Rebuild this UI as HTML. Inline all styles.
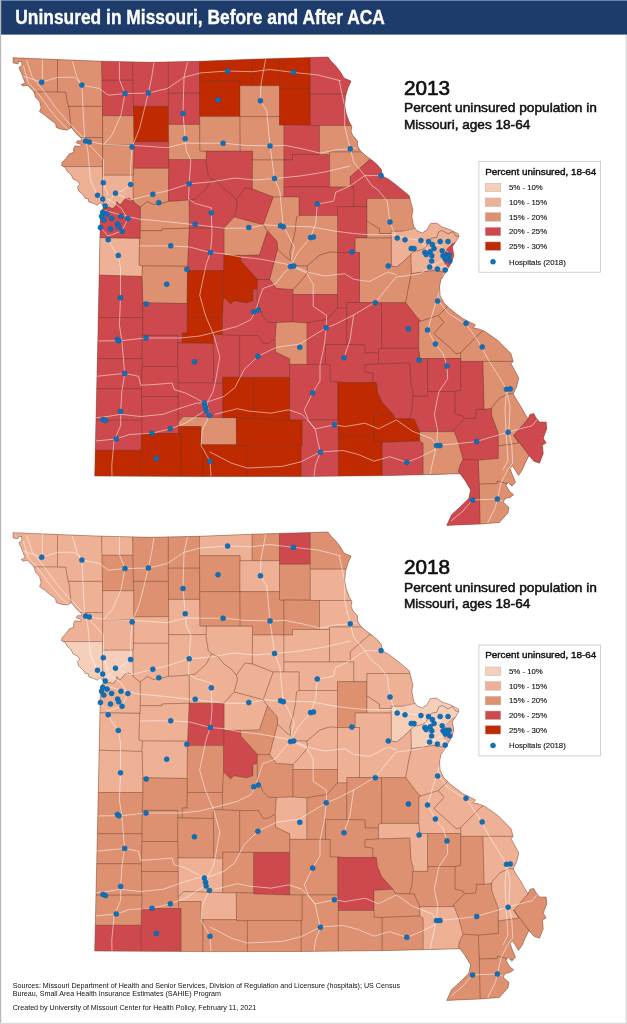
<!DOCTYPE html>
<html lang="en"><head><meta charset="utf-8"><title>Uninsured in Missouri, Before and After ACA</title>
<style>
html,body{margin:0;padding:0;background:#fff}
body{width:627px;height:1024px;overflow:hidden;position:relative;font-family:"Liberation Sans",sans-serif}
svg{position:absolute;left:0;top:0;display:block;will-change:transform}
.co{stroke:#5a3a2c;stroke-opacity:.55;stroke-width:.55;stroke-linejoin:round}
.rd{fill:none;stroke:#fff;stroke-opacity:.75;stroke-width:.7;stroke-linejoin:round;stroke-linecap:round}
.ol{fill:none;stroke:#7a4a38;stroke-opacity:.7;stroke-width:.7;stroke-linejoin:round}
.h{fill:#1171ba;stroke:#0c5c9d;stroke-width:.5}
.t1{font:bold 20.3px "Liberation Sans",sans-serif;fill:#fff;stroke:#fff;stroke-width:.35}
.yr{font:19.6px "Liberation Sans",sans-serif;fill:#111;stroke:#111;stroke-width:.7}
.sub{font:13.2px "Liberation Sans",sans-serif;fill:#111;stroke:#111;stroke-width:.5}
.lt{font:9.3px "Liberation Sans",sans-serif;fill:#111;stroke:#111;stroke-width:.4}
.ll{font:7.8px "Liberation Sans",sans-serif;fill:#111;stroke:#111;stroke-width:.12}
.ft{font:7.15px "Liberation Sans",sans-serif;fill:#111}
</style></head><body>
<svg width="627" height="1024" viewBox="0 0 627 1024">
<rect x="0" y="0" width="627" height="1024" fill="#fff"/>
<rect x="0" y="0" width="627" height="34.6" fill="#1d3c6b"/>
<rect x="0" y="0" width="627" height="1" fill="#6f86ab"/>
<rect x="0" y="0" width="1.2" height="1024" fill="#b9b9b9"/>
<rect x="625.6" y="35" width="1.4" height="989" fill="#dadada"/>
<rect x="0" y="1022.8" width="627" height="1.2" fill="#dcdcdc"/>
<text class="t1" x="15.3" y="24" textLength="369.5" lengthAdjust="spacingAndGlyphs">Uninsured in Missouri, Before and After ACA</text>
<defs>
<filter id="soft" x="-2%" y="-2%" width="104%" height="104%"><feGaussianBlur stdDeviation=".35"/></filter>
<clipPath id="mo"><path d="M13 57.7 L57.5 59.5 L101.5 61.2 L150 62.3 L200 61.3 L252 59.2 L285 58.2 L328 57 L331.2 61.2 L335.9 65.9 L340.7 72.3 L343.9 77.9 L351.1 81.1 L347.9 88.3 L345.5 96.3 L344.7 105.8 L346.3 113.8 L349.5 122.6 L351.9 126.6 L351.1 131.3 L352.7 135.3 L357.5 140.9 L357.5 145.7 L360.7 151.3 L366.3 156 L371.8 160 L377.4 164.8 L381.4 169.6 L382.2 176 L388.6 179.2 L395 184 L402.9 190.4 L408.5 195.1 L409.4 196 L410.8 202.2 L412.9 209.4 L411.9 216.5 L413.7 226.6 L417.2 230.9 L422.3 233 L427.3 229.4 L430.2 223.7 L436.6 223 L442.4 227.3 L449.5 229.4 L458.2 233.8 L458.9 236.6 L455.3 242.4 L452.4 246.7 L453.8 255.3 L451.7 262.5 L448.1 268.2 L445.2 273.2 L440.9 279.7 L439.5 286.9 L440.2 295.5 L443.8 302.6 L449.5 308.4 L456.7 314.1 L462.5 318.4 L471.1 322.7 L475.4 324.9 L473.2 327.8 L479.7 329.2 L485 331.4 L497.6 340.2 L511 353.6 L513.2 361.4 L511 363.6 L518.8 378 L516.6 387 L513.2 393.8 L516.6 400 L520.4 405.7 L524.2 412.4 L528 419 L530 414.4 L533.8 413.4 L535.7 417.2 L539.5 422 L546.2 422 L546.8 428.7 L543.3 438.3 L546.2 443 L542.4 445 L543.3 453.6 L539.5 463.2 L533.8 461.2 L529 455.5 L525.2 463.2 L522.3 469.9 L518.5 475.6 L515.6 470.8 L512.7 466 L509.9 468 L512.7 475.6 L515.6 482.3 L511.8 486 L508 482.3 L506 485.2 L509.9 491.9 L513.7 494.7 L509.9 497.6 L505 498.6 L503.2 502.4 L508.9 507.2 L508 512.9 L499.3 522.5 L480.2 524 L446.7 525.4 L451.5 514.8 L459 508 L468.7 498.6 L470.6 490 L464.9 480.4 L460 473.7 L390 475.5 L300 476.5 L200 476.6 L94.7 476 L98 330 L100.4 215 L102.3 210.3 L103.6 206.5 L100.4 202.6 L97.2 205.2 L93.4 203.3 L88.9 202 L88.3 198.8 L85.1 198.2 L83.2 195 L78.7 191.1 L77.4 186.7 L80 184.1 L77.4 180.9 L73 179 L71.1 174.6 L67.2 171.4 L65.3 167.5 L61.5 165.6 L62.1 162.4 L65.9 158.6 L69.1 154.1 L73.6 152.2 L73.6 148.4 L74.9 145.8 L80.6 146.5 L81.3 144.6 L76.2 142.7 L77.4 140.7 L81.9 140.7 L80.6 137.6 L77.4 135 L74.6 131.6 L71.4 127.6 L67.4 130 L61 129.2 L56.3 127.6 L55.5 123.6 L49.1 118.8 L44.3 114.8 L39.5 111.6 L41.1 107.6 L39.5 101.3 L35.5 97.3 L33.9 91.7 L27.5 85.3 L22.8 86.1 L21.2 84.5 L25.2 82.9 L23.6 78.9 L21.2 72.5 L18.8 67.8 L22 65.4 L21.5 61.4 L18.8 61.4 L18 63.8 L13.2 63Z"/></clipPath>

<g id="roads">
<path class="rd" d="M104 210.3 L119.7 214.7 L139.7 219.2 L164.3 221.4 L195.6 224.8 L224 228.2 L248.6 228.2 L264.2 224.8 L281 226 L311 226.8 L336 231.3 L353.7 233.5 L369 234.7 L391.6 234.7 L405 238 L420 240.5 L440 246 L448 252"/>
<path class="rd" d="M447 258 L432 266 L420 273.7 L405 276 L396 277 L387 288 L376 301.6 L353.7 315 L335.8 324 L326.2 327.8 L308.8 338.4 L299.8 344 L276.4 347.3 L257.9 356.3 L244 369.7 L235 387.5 L224 396.4 L204.4 403.1 L196.6 403.1 L178.8 408.7 L163.1 414.3 L140.8 416.5 L120.7 414.3 L107.3 416.5 L96 417.7"/>
<path class="rd" d="M446 265 L441 285 L439.6 302.2 L448.5 313.4 L466.4 324.6 L477.5 340.2 L488.7 360.3 L499.8 378 L506.5 389.3 L510 407 L508.8 431.7 L511.8 445 L512.7 463 L507 470.8 L501.2 482.3 L497.4 499 L495.5 507 L487.8 522.5"/>
<path class="rd" d="M506.5 389.3 L505 410 L506 432 L508 460 L503 470"/>
<path class="rd" d="M215 414.3 L237.3 408.7 L248.5 411 L270.8 413.2 L288.7 409.8 L302 414.3 L315.5 428.8 L334.4 424.8 L345 426.6 L365 423.2 L378.5 428.8 L396.4 419.9 L412 431 L432 438.9 L436.5 445.6 L461 443.3 L476.7 441.5 L485 438.9 L508 432.2 L520.4 428.7 L531.9 425.8 L537.6 419 L543 416"/>
<path class="rd" d="M204.4 411 L185.5 423.2 L170.3 428.8 L152 433.3 L129.7 434.4 L116.3 438.9 L96 441"/>
<path class="rd" d="M265.6 59.5 L261 84 L260.4 100.8 L266.7 110.8 L270 145.9 L272.3 162.2 L274.5 178.5 L279.8 191.3 L282 213.7 L283.2 226 L288.8 236 L294.3 247.2 L291 260.6 L291 266.2 L306.5 272.9 L313.2 284 L313.2 306.4 L326.6 315.3 L326.2 328.3 L324.4 345 L320 365.2 L320 380.8 L312.6 393.1 L304.3 409.8 L308.8 421 L315.5 430 L317.7 441 L320.4 452.3 L315.5 465 L314 476"/>
<path class="rd" d="M80 140 L85.9 141 L103.8 144.3 L132.1 145.4 L150 146.5 L167.3 147.7 L185.2 143.2 L223.1 143.2 L245.5 145.4 L270 145.9 L285 145.4 L302.3 148.8 L320.2 153.2 L335.8 149.9 L350.3 148.8 L356 148"/>
<path class="rd" d="M105 207 L115 193.4 L121.6 191.2 L130.6 184.5 L130.6 166.6 L132.1 147 L139.5 128.7 L144 110.8 L148.4 93 L151.7 77.3 L153.9 62.8"/>
<path class="rd" d="M26.7 60.6 L32.3 77.3 L43.5 90.7 L54.7 106.4 L65.8 119.7 L77 131 L86 141 L88.1 153.2 L89.3 166.6 L90.4 180 L97 195 L103 203"/>
<path class="rd" d="M23.4 66 L28 82 L40 96 L50 110 L62 124 L74 134 L84 140"/>
<path class="rd" d="M108.2 239.8 L112.7 248 L118.3 255.4 L120.5 268 L120.5 297.8 L119.4 325 L121.8 340.6 L124.7 373.4 L121.8 392 L120.7 411.4 L120.7 425.5 L114 441 L111.8 465 L112 476"/>
<path class="rd" d="M187.4 62.8 L184 77.3 L183 113.5 L185.2 138.7 L186.3 151 L190.8 160 L189.2 183.8 L188.5 199 L195.2 203.4 L211.3 207.9 L211.3 212.8 L212 234.7 L210.4 252.5 L206.4 263.7 L203 279.3 L199.7 295 L205.3 315 L214.2 336.3 L219.8 357 L215.8 379.3 L213 392 L207 403 L209.4 415.4 L202.2 430 L201.1 445.6 L210 461.2 L211 476"/>
<path class="rd" d="M339.2 80.7 L344.7 106.4 L344.7 126.4 L350.3 148.8 L353.7 162.2 L364.8 175.6 L372 186 L378.2 190 L387.2 201.2 L390 222 L393.9 232.4 L397.2 238"/>
<path class="rd" d="M364.8 175.6 L381.1 175.6"/>
<path class="rd" d="M140 246 L170.7 245.8 L189.7 247 L210.4 252.5 L223 253.6 L241 257 L261 259.2 L285 263.7 L293.8 266 L309 272.6 L324.7 276 L344.7 273.7 L353.7 279.3 L369.3 281.5 L388.3 272 L396 274.8"/>
<path class="rd" d="M290.5 266.6 L297.9 252.5 L310.6 237.6 L315.7 223.5 L317.3 204 L333.6 201.2 L335.8 192.2 L350 186 L364.8 175.6"/>
<path class="rd" d="M291 266.2 L284.2 272.9 L275.3 284 L263 288.5 L259.7 297.4 L255.2 312 L250.7 319.7 L237.3 326.4 L219.5 331 L200 336 L180 338 L146 338 L121.8 340.6 L96 341"/>
<path class="rd" d="M23.4 76.2 L41.7 82.2 L58 77.3 L74.7 77.3 L81.9 85.1 L99.3 88.5 L108.2 95.2 L125 93.6 L148.4 93 L167.3 88.5 L184 77.3 L200.8 72.9 L227.6 71 L252.2 71.7 L270 69.5 L293.4 72.4 L318 75 L340.3 80.7"/>
<path class="rd" d="M72.5 61.7 L77 77.3 L81.9 85.1 L82.6 99.7 L83.7 122 L84.8 141"/>
<path class="rd" d="M210 452 L231.5 463.2 L247.4 468 L282.5 466.4 L301.6 461.6 L320.1 452 L343.1 450.5 L358.4 454.5 L374 461.2 L389.7 456.7 L406.8 462.3 L421 456.7 L434.3 450 L436.5 445.6"/>
<path class="rd" d="M96 376.3 L124.7 373.4 L138.6 376.3 L140.8 385.3 L158.7 384.2 L172 383 L174.3 389.7 L185.5 393 L196.6 398.7 L204.4 403.1"/>
<path class="rd" d="M440 290 L432 315 L427.6 330 L435.4 344 L443.2 354 L447 365.9 L447.7 378.6 L438.8 392 L434.3 414.3 L437.7 430 L436.5 445.6 L432 465 L430 476"/>
<path class="rd" d="M451.5 520.6 L463 511 L472.5 500 L497.4 499 L507 503"/>
<path class="rd" d="M189.2 183.8 L210 182 L235 178 L255 180 L274.5 178.5 L300 176 L325 172 L350 166"/>
<path class="rd" d="M115.5 193.2 L130 200 L152.8 194.3 L170 190 L189.2 183.8"/>
<path class="rd" d="M344 357.8 L350 340 L353.7 315"/>
<path class="rd" d="M119.4 61.7 L119.4 79.6 L125 93.6 L121 115 L112 135 L104 144.3"/>
<path class="rd" d="M42.4 59.5 L42.4 82"/>
<path class="rd" d="M85.9 141 L103.5 160 L103.3 182.7 L108 195"/>
<path class="rd" d="M97 195 L110 200 L121 208 L127.9 218.6 L122 231 L108 236 L101 228"/>
<path class="rd" d="M420 240.5 L428 250 L431 262 L437.4 269.1 L446 265"/>
</g>
<g id="hosp">
<circle class="h" cx="41.7" cy="82.2" r="2.5"/>
<circle class="h" cx="81.9" cy="85.1" r="2.5"/>
<circle class="h" cx="125" cy="93.6" r="2.5"/>
<circle class="h" cx="148.4" cy="93" r="2.5"/>
<circle class="h" cx="85.5" cy="141" r="2.5"/>
<circle class="h" cx="89.3" cy="142" r="2.5"/>
<circle class="h" cx="132.1" cy="147" r="2.5"/>
<circle class="h" cx="103.3" cy="182.7" r="2.5"/>
<circle class="h" cx="130.6" cy="184.5" r="2.5"/>
<circle class="h" cx="97.5" cy="195.3" r="2.5"/>
<circle class="h" cx="115.5" cy="193.2" r="2.5"/>
<circle class="h" cx="183" cy="113.5" r="2.5"/>
<circle class="h" cx="185.2" cy="138.7" r="2.5"/>
<circle class="h" cx="227.6" cy="71" r="2.5"/>
<circle class="h" cx="218" cy="99.7" r="2.5"/>
<circle class="h" cx="260.4" cy="100.8" r="2.5"/>
<circle class="h" cx="223.1" cy="143.2" r="2.5"/>
<circle class="h" cx="270" cy="145.9" r="2.5"/>
<circle class="h" cx="189.2" cy="183.8" r="2.5"/>
<circle class="h" cx="274.5" cy="178.5" r="2.5"/>
<circle class="h" cx="152.8" cy="194.3" r="2.5"/>
<circle class="h" cx="293.4" cy="72.4" r="2.5"/>
<circle class="h" cx="350.3" cy="148.8" r="2.5"/>
<circle class="h" cx="381.1" cy="175.6" r="2.5"/>
<circle class="h" cx="102.7" cy="199" r="2.5"/>
<circle class="h" cx="105.3" cy="206" r="2.5"/>
<circle class="h" cx="102.7" cy="212.3" r="2.5"/>
<circle class="h" cx="107.1" cy="214.1" r="2.5"/>
<circle class="h" cx="101.5" cy="216.3" r="2.5"/>
<circle class="h" cx="103.8" cy="220.1" r="2.5"/>
<circle class="h" cx="111.6" cy="218.4" r="2.5"/>
<circle class="h" cx="121" cy="216.3" r="2.5"/>
<circle class="h" cx="127.9" cy="218.6" r="2.5"/>
<circle class="h" cx="117.6" cy="224" r="2.5"/>
<circle class="h" cx="118.7" cy="226.8" r="2.5"/>
<circle class="h" cx="100.4" cy="227.5" r="2.5"/>
<circle class="h" cx="110.5" cy="229" r="2.5"/>
<circle class="h" cx="122.1" cy="231.3" r="2.5"/>
<circle class="h" cx="108.2" cy="239.8" r="2.5"/>
<circle class="h" cx="118.3" cy="255.4" r="2.5"/>
<circle class="h" cx="120.5" cy="297.8" r="2.5"/>
<circle class="h" cx="146.2" cy="303.9" r="2.5"/>
<circle class="h" cx="158.8" cy="202.7" r="2.5"/>
<circle class="h" cx="211.3" cy="212.8" r="2.5"/>
<circle class="h" cx="195.2" cy="224.2" r="2.5"/>
<circle class="h" cx="248.8" cy="227.5" r="2.5"/>
<circle class="h" cx="280.5" cy="225.7" r="2.5"/>
<circle class="h" cx="283.4" cy="226.8" r="2.5"/>
<circle class="h" cx="170.7" cy="245.8" r="2.5"/>
<circle class="h" cx="210.4" cy="252.5" r="2.5"/>
<circle class="h" cx="186.8" cy="269.3" r="2.5"/>
<circle class="h" cx="166.7" cy="284.2" r="2.5"/>
<circle class="h" cx="253.7" cy="311.7" r="2.5"/>
<circle class="h" cx="258.2" cy="310.1" r="2.5"/>
<circle class="h" cx="317.3" cy="204" r="2.5"/>
<circle class="h" cx="310.6" cy="237.6" r="2.5"/>
<circle class="h" cx="313.5" cy="236.9" r="2.5"/>
<circle class="h" cx="351.9" cy="252" r="2.5"/>
<circle class="h" cx="290.5" cy="266.6" r="2.5"/>
<circle class="h" cx="293.8" cy="265.9" r="2.5"/>
<circle class="h" cx="390" cy="222" r="2.5"/>
<circle class="h" cx="397.2" cy="238" r="2.5"/>
<circle class="h" cx="388.3" cy="265.9" r="2.5"/>
<circle class="h" cx="375.3" cy="302.7" r="2.5"/>
<circle class="h" cx="326.2" cy="327.8" r="2.5"/>
<circle class="h" cx="408.4" cy="328.9" r="2.5"/>
<circle class="h" cx="405" cy="239.8" r="2.5"/>
<circle class="h" cx="420.9" cy="240.5" r="2.5"/>
<circle class="h" cx="428.5" cy="241.5" r="2.5"/>
<circle class="h" cx="440.2" cy="241.5" r="2.5"/>
<circle class="h" cx="448" cy="241.5" r="2.5"/>
<circle class="h" cx="432.4" cy="244.6" r="2.5"/>
<circle class="h" cx="434" cy="248.5" r="2.5"/>
<circle class="h" cx="411.2" cy="248.5" r="2.5"/>
<circle class="h" cx="414" cy="248.5" r="2.5"/>
<circle class="h" cx="424.8" cy="252.4" r="2.5"/>
<circle class="h" cx="430.1" cy="251.8" r="2.5"/>
<circle class="h" cx="426.2" cy="254.6" r="2.5"/>
<circle class="h" cx="431.8" cy="255.8" r="2.5"/>
<circle class="h" cx="431.6" cy="261" r="2.5"/>
<circle class="h" cx="429.6" cy="267.1" r="2.5"/>
<circle class="h" cx="437.4" cy="269.1" r="2.5"/>
<circle class="h" cx="445.2" cy="270" r="2.5"/>
<circle class="h" cx="442.2" cy="250.7" r="2.5"/>
<circle class="h" cx="443" cy="255.8" r="2.5"/>
<circle class="h" cx="446.3" cy="255.2" r="2.5"/>
<circle class="h" cx="449.1" cy="255.2" r="2.5"/>
<circle class="h" cx="445.2" cy="259.1" r="2.5"/>
<circle class="h" cx="449.7" cy="260.8" r="2.5"/>
<circle class="h" cx="446.9" cy="257.4" r="2.5"/>
<circle class="h" cx="437.6" cy="301" r="2.5"/>
<circle class="h" cx="466" cy="323.3" r="2.5"/>
<circle class="h" cx="427.5" cy="330" r="2.5"/>
<circle class="h" cx="435.4" cy="344" r="2.5"/>
<circle class="h" cx="482.2" cy="346.9" r="2.5"/>
<circle class="h" cx="419.1" cy="360" r="2.5"/>
<circle class="h" cx="447" cy="365.9" r="2.5"/>
<circle class="h" cx="506.5" cy="389.3" r="2.5"/>
<circle class="h" cx="510.3" cy="388.9" r="2.5"/>
<circle class="h" cx="508.1" cy="432.2" r="2.5"/>
<circle class="h" cx="476.7" cy="441.5" r="2.5"/>
<circle class="h" cx="436.5" cy="445.6" r="2.5"/>
<circle class="h" cx="440" cy="445.6" r="2.5"/>
<circle class="h" cx="406.8" cy="462.3" r="2.5"/>
<circle class="h" cx="472.5" cy="500" r="2.5"/>
<circle class="h" cx="497.4" cy="499" r="2.5"/>
<circle class="h" cx="117.4" cy="339.5" r="2.5"/>
<circle class="h" cx="119" cy="340.8" r="2.5"/>
<circle class="h" cx="146" cy="338" r="2.5"/>
<circle class="h" cx="194.4" cy="361.8" r="2.5"/>
<circle class="h" cx="124.7" cy="373.4" r="2.5"/>
<circle class="h" cx="120.7" cy="411.4" r="2.5"/>
<circle class="h" cx="102.9" cy="419.4" r="2.5"/>
<circle class="h" cx="105.5" cy="420.6" r="2.5"/>
<circle class="h" cx="116.3" cy="438.9" r="2.5"/>
<circle class="h" cx="152" cy="433.3" r="2.5"/>
<circle class="h" cx="170.3" cy="428.8" r="2.5"/>
<circle class="h" cx="156.4" cy="458.5" r="2.5"/>
<circle class="h" cx="204.4" cy="403.1" r="2.5"/>
<circle class="h" cx="205.6" cy="407.2" r="2.5"/>
<circle class="h" cx="206.2" cy="411" r="2.5"/>
<circle class="h" cx="209.4" cy="415.4" r="2.5"/>
<circle class="h" cx="210" cy="461.2" r="2.5"/>
<circle class="h" cx="257.9" cy="356.3" r="2.5"/>
<circle class="h" cx="299.8" cy="347.3" r="2.5"/>
<circle class="h" cx="344" cy="357.8" r="2.5"/>
<circle class="h" cx="312.6" cy="393.1" r="2.5"/>
<circle class="h" cx="334.4" cy="424.8" r="2.5"/>
<circle class="h" cx="320.4" cy="452.3" r="2.5"/>
</g>
</defs>
<g transform="translate(0,0)" filter="url(#soft)">
<g clip-path="url(#mo)">
<path d="M13 57.7 L57.5 59.5 L101.5 61.2 L150 62.3 L200 61.3 L252 59.2 L285 58.2 L328 57 L331.2 61.2 L335.9 65.9 L340.7 72.3 L343.9 77.9 L351.1 81.1 L347.9 88.3 L345.5 96.3 L344.7 105.8 L346.3 113.8 L349.5 122.6 L351.9 126.6 L351.1 131.3 L352.7 135.3 L357.5 140.9 L357.5 145.7 L360.7 151.3 L366.3 156 L371.8 160 L377.4 164.8 L381.4 169.6 L382.2 176 L388.6 179.2 L395 184 L402.9 190.4 L408.5 195.1 L409.4 196 L410.8 202.2 L412.9 209.4 L411.9 216.5 L413.7 226.6 L417.2 230.9 L422.3 233 L427.3 229.4 L430.2 223.7 L436.6 223 L442.4 227.3 L449.5 229.4 L458.2 233.8 L458.9 236.6 L455.3 242.4 L452.4 246.7 L453.8 255.3 L451.7 262.5 L448.1 268.2 L445.2 273.2 L440.9 279.7 L439.5 286.9 L440.2 295.5 L443.8 302.6 L449.5 308.4 L456.7 314.1 L462.5 318.4 L471.1 322.7 L475.4 324.9 L473.2 327.8 L479.7 329.2 L485 331.4 L497.6 340.2 L511 353.6 L513.2 361.4 L511 363.6 L518.8 378 L516.6 387 L513.2 393.8 L516.6 400 L520.4 405.7 L524.2 412.4 L528 419 L530 414.4 L533.8 413.4 L535.7 417.2 L539.5 422 L546.2 422 L546.8 428.7 L543.3 438.3 L546.2 443 L542.4 445 L543.3 453.6 L539.5 463.2 L533.8 461.2 L529 455.5 L525.2 463.2 L522.3 469.9 L518.5 475.6 L515.6 470.8 L512.7 466 L509.9 468 L512.7 475.6 L515.6 482.3 L511.8 486 L508 482.3 L506 485.2 L509.9 491.9 L513.7 494.7 L509.9 497.6 L505 498.6 L503.2 502.4 L508.9 507.2 L508 512.9 L499.3 522.5 L480.2 524 L446.7 525.4 L451.5 514.8 L459 508 L468.7 498.6 L470.6 490 L464.9 480.4 L460 473.7 L390 475.5 L300 476.5 L200 476.6 L94.7 476 L98 330 L100.4 215 L102.3 210.3 L103.6 206.5 L100.4 202.6 L97.2 205.2 L93.4 203.3 L88.9 202 L88.3 198.8 L85.1 198.2 L83.2 195 L78.7 191.1 L77.4 186.7 L80 184.1 L77.4 180.9 L73 179 L71.1 174.6 L67.2 171.4 L65.3 167.5 L61.5 165.6 L62.1 162.4 L65.9 158.6 L69.1 154.1 L73.6 152.2 L73.6 148.4 L74.9 145.8 L80.6 146.5 L81.3 144.6 L76.2 142.7 L77.4 140.7 L81.9 140.7 L80.6 137.6 L77.4 135 L74.6 131.6 L71.4 127.6 L67.4 130 L61 129.2 L56.3 127.6 L55.5 123.6 L49.1 118.8 L44.3 114.8 L39.5 111.6 L41.1 107.6 L39.5 101.3 L35.5 97.3 L33.9 91.7 L27.5 85.3 L22.8 86.1 L21.2 84.5 L25.2 82.9 L23.6 78.9 L21.2 72.5 L18.8 67.8 L22 65.4 L21.5 61.4 L18.8 61.4 L18 63.8 L13.2 63Z" fill="#cd494d"/>
<path class="co" fill="#dd9170" d="M5 50 L57.5 50 L57.5 92 L5 92Z"/>
<path class="co" fill="#dd9170" d="M5 92 L65.8 92 L67 100 L69.5 110.8 L70.3 120 L71.4 128.7 L75 137.6 L5 137.6Z"/>
<path class="co" fill="#dd9170" d="M57.5 50 L101.5 50 L102.5 106.4 L68.5 106.4 L67 100 L65.8 92 L57.5 92Z"/>
<path class="co" fill="#dd9170" d="M68.5 106.4 L102.5 106.4 L102.5 137.6 L75 137.6 L71.4 128.7 L70.3 120 L69.5 110.8Z"/>
<path class="co" fill="#dd9170" d="M55 137.6 L102.5 137.6 L102.5 166.6 L55 166.6Z"/>
<path class="co" fill="#eeb195" d="M55 166.6 L102.5 166.6 L102.5 175 L103 208 L55 208Z"/>
<path class="co" fill="#eeb195" d="M102.5 175 L133 175 L133.3 201.1 L131.4 199.8 L128.8 198.2 L125.6 198.5 L123.1 201.4 L120.5 204.6 L118.3 203.9 L117 201.7 L116.7 203.9 L114.8 207.1 L112.2 208.7 L109.7 207.4 L105.8 207.8 L103.6 206.5 L102.5 190Z"/>
<path class="co" fill="#cd494d" d="M101.5 50 L132.5 50 L133 80.3 L102 80.3Z"/>
<path class="co" fill="#cd494d" d="M102 80.3 L133 80.3 L133.7 115.8 L102.6 115.8Z"/>
<path class="co" fill="#dd9170" d="M102.6 115.8 L133.7 115.8 L134 144.8 L102.7 144.8Z"/>
<path class="co" fill="#dd9170" d="M102.7 144.8 L134 144.8 L133.5 174.7 L133 175 L102.5 175Z"/>
<path class="co" fill="#cd494d" d="M132.5 50 L168.4 50 L168.4 106.4 L133.5 106.4 L133 80.3Z"/>
<path class="co" fill="#bf2b00" d="M133.5 106.4 L168.4 106.4 L168.6 141.8 L134 141.8 L133.7 115.8Z"/>
<path class="co" fill="#cd494d" d="M134 141.8 L168.6 141.8 L168.8 168.3 L133.7 168.3 L134 144.8Z"/>
<path class="co" fill="#dd9170" d="M133.7 168.3 L168.8 168.3 L168.5 201.4 L161 203.5 L153.5 204.5 L147 201.5 L142 205.8 L140.2 207 L135.3 203.6 L133.3 201.1 L133 175 L133.5 174.7Z"/>
<path class="co" fill="#cd494d" d="M168.4 50 L199.5 50 L199.5 93.2 L168.4 93.2Z"/>
<path class="co" fill="#cd494d" d="M168.4 93.2 L199.5 93.2 L199.7 124.4 L168.6 124.4Z"/>
<path class="co" fill="#dd9170" d="M168.6 124.4 L199.7 124.4 L200 151 L206.4 151.3 L206.4 159.7 L168.8 159.7Z"/>
<path class="co" fill="#cd494d" d="M168.8 159.7 L206.4 159.7 L206.2 162.3 L208.4 175.7 L211.7 179 L206.2 189 L195 199.2 L188.5 200 L178 201 L168.5 201.4Z"/>
<path class="co" fill="#bf2b00" d="M199.5 50 L252.2 50 L252.2 85.8 L240 85.8 L240 80.8 L199.5 80.8Z"/>
<path class="co" fill="#bf2b00" d="M252.2 50 L279.5 50 L279.5 85.8 L252.2 85.8Z"/>
<path class="co" fill="#bf2b00" d="M199.5 80.8 L240 80.8 L240 116.6 L199.7 116.6Z"/>
<path class="co" fill="#dd9170" d="M240 85.8 L279.5 85.8 L279.5 116.6 L240 116.6Z"/>
<path class="co" fill="#dd9170" d="M199.7 116.6 L240 116.6 L240.2 151.2 L200 151Z"/>
<path class="co" fill="#dd9170" d="M240 116.6 L279.5 116.6 L279.5 125 L284 125 L284 160 L252.5 160 L252.5 151.3 L240.2 151.2Z"/>
<path class="co" fill="#cd494d" d="M206.4 151.3 L252.5 151.3 L252.4 189 L245.2 188 L236.3 200.3 L231.8 194.7 L224 189 L217.3 181.3 L211.7 179 L208.4 175.7 L206.2 162.3Z"/>
<path class="co" fill="#dd9170" d="M252.5 160 L284 160 L284 197 L273.1 197 L252.4 189Z"/>
<path class="co" fill="#bf2b00" d="M279.5 50 L310.3 50 L310.3 89.3 L279.5 89.3Z"/>
<path class="co" fill="#bf2b00" d="M279.5 89.3 L310.3 89.3 L310.3 125 L279.5 125Z"/>
<path class="co" fill="#cd494d" d="M310.3 50 L370 50 L370 94.2 L310.3 94.2Z"/>
<path class="co" fill="#cd494d" d="M310.3 94.2 L370 94.2 L370 125.5 L310.3 125.5Z"/>
<path class="co" fill="#cd494d" d="M284 125 L319.5 125.5 L319.5 154.5 L292.5 154.5 L292.5 160 L284 160Z"/>
<path class="co" fill="#cd494d" d="M284 160 L292.5 160 L292.5 154.5 L329.6 154.5 L329.6 187 L284 187Z"/>
<path class="co" fill="#dd9170" d="M319.5 125.5 L370 125.5 L370 152 L329.6 152 L329.6 154.5 L319.5 154.5Z"/>
<path class="co" fill="#dd9170" d="M329.6 152 L375 152 L369.3 160 L350.3 176.7 L350.3 187 L329.6 187Z"/>
<path class="co" fill="#cd494d" d="M350.3 176.7 L369.3 160 L425 160 L425 198.5 L367 198.5 L367 206.7 L353.7 206.7 L353.7 187 L350.3 187Z"/>
<path class="co" fill="#cd494d" d="M284 187 L353.7 187 L353.7 206.7 L337.5 206.7 L337.5 215.5 L299 215.5 L299 197 L284 197Z"/>
<path class="co" fill="#cd494d" d="M337.5 206.7 L367 206.7 L367 238 L355.2 238 L355.2 252.5 L337.5 252.5Z"/>
<path class="co" fill="#dd9170" d="M367 198.5 L425 198.5 L425 231.3 L391.2 231.3 L391.2 233.5 L379.4 233.5 L379.4 229 L367 221Z"/>
<path class="co" fill="#dd9170" d="M367 221 L379.4 229 L379.4 233.5 L391.2 233.5 L391.2 238 L367 238Z"/>
<path class="co" fill="#eeb195" d="M391.2 231.3 L402.3 231.3 L416.8 228 L424 215 L465 215 L465 236.2 L455.8 236.2 L452.5 231.7 L448 234 L442.4 230.6 L439 231.7 L436.8 237.3 L431.3 238.4 L425.7 247.4 L422.3 249.6 L413.4 251.8 L410.8 254.7 L402.3 262.6 L396.7 267 L391.2 266Z"/>
<path class="co" fill="#eeb195" d="M410.8 254.7 L413.4 251.8 L422.3 249.6 L425.7 247.4 L431.3 238.4 L436.8 237.3 L439 231.7 L442.4 230.6 L448 234 L452.5 231.7 L455.8 236.2 L465 236.2 L465 272 L445.9 272.6 L433.6 270.4 L419 272.6 L411.3 273.7Z"/>
<path class="co" fill="#cd494d" d="M452.4 243.5 L460 241 L460 262 L449.5 268 L445 264.5 L443.5 256 L446.5 249.5Z"/>
<path class="co" fill="#dd9170" d="M355.2 238 L391.2 238 L391.2 266 L396.7 267 L402.3 262.6 L410.8 254.7 L411.3 273.7 L408 290 L405.7 302.7 L381.5 302.7 L359.5 302.5 L359.5 252.5 L355.2 252.5Z"/>
<path class="co" fill="#dd9170" d="M411.3 273.7 L419 272.6 L433.6 270.4 L445.9 272.6 L465 272 L465 306 L447.4 306.7 L443 311 L438.4 315.6 L420.6 321.2 L416.8 317.3 L405.7 302.7 L408 290Z"/>
<path class="co" fill="#cd494d" d="M337.5 252.5 L359.5 252.5 L359.5 302.5 L347 302.5 L347 308 L337.5 308Z"/>
<path class="co" fill="#dd9170" d="M273.1 197 L299 197 L299 215.5 L296.6 217 L295.5 229.3 L293.2 240.5 L289.9 251.6 L291 261 L284.3 256 L277.6 249.4 L277 241.5 L267.5 231 L263.1 224.8Z"/>
<path class="co" fill="#dd9170" d="M299 215.5 L337.5 215.5 L337.5 252.5 L330 252 L320 255 L307 266 L293 266 L291 261 L289.9 251.6 L293.2 240.5 L295.5 229.3 L296.6 217Z"/>
<path class="co" fill="#cd494d" d="M245.2 188 L252.4 189 L273.1 197 L263.1 224.8 L234.1 217 L237.4 204.7 L236.3 200.3Z"/>
<path class="co" fill="#cd494d" d="M189 200 L195 199.2 L206.2 189 L211.7 179 L217.3 181.3 L224 189 L231.8 194.7 L236.3 200.3 L237.4 204.7 L234.1 217 L224 228.2 L189.3 228.2Z"/>
<path class="co" fill="#dd9170" d="M234.1 217 L263.1 224.8 L267.5 231 L259.5 255 L240.3 255.5 L224 255 L224 228.2Z"/>
<path class="co" fill="#cd494d" d="M267.5 231 L277 241.5 L277.6 249.4 L270 278.5 L269.7 279.6 L257.5 279.5 L241 261.4 L240.3 255.5 L259.5 255Z"/>
<path class="co" fill="#dd9170" d="M277.6 249.4 L284.3 256 L291 261 L293 266 L307 266 L307.7 273 L300 282 L293 289.6 L276.4 288.5 L269.7 279.6 L270 278.5Z"/>
<path class="co" fill="#dd9170" d="M307 266 L320 255 L330 252 L337.5 252.5 L337.5 294.5 L293 294.5 L293 289.6 L300 282 L307.7 273Z"/>
<path class="co" fill="#dd9170" d="M140.2 207 L142 205.8 L147 201.5 L153.5 204.5 L161 203.5 L168.5 201.4 L178 201 L188.5 200 L189 200 L189.3 228.2 L162 229 L162 230.8 L140.2 230.8Z"/>
<path class="co" fill="#cd494d" d="M92 209 L103.6 206.5 L105.8 207.8 L109.7 207.4 L112.2 208.7 L114.8 207.1 L116.7 203.9 L117 201.7 L118.3 203.9 L120.5 204.6 L123.1 201.4 L125.6 198.5 L128.8 198.2 L131.4 199.8 L133.3 201.1 L135.3 203.6 L140.2 207 L140.2 238.2 L92 237.7Z"/>
<path class="co" fill="#eeb195" d="M92 237.7 L139.7 238.4 L139 265 L142.6 266 L142 276.5 L92 275Z"/>
<path class="co" fill="#dd9170" d="M140.2 230.8 L162 230.8 L162 229 L189.3 228.2 L187.7 266.2 L142.6 266 L139 265 L139.7 238.4 L140.2 238.2Z"/>
<path class="co" fill="#cd494d" d="M189.3 228.2 L224 228.2 L224 255 L223.6 270.6 L187.5 270.6 L187.7 266.2Z"/>
<path class="co" fill="#dd9170" d="M142.6 266 L187.7 266.2 L187.5 270.6 L187.1 303.5 L142.8 302.7 L142 276.5Z"/>
<path class="co" fill="#cd494d" d="M92 275 L142 276.5 L142.8 302.7 L142.8 317.5 L92 317.5Z"/>
<path class="co" fill="#bf2b00" d="M187.5 270.6 L223.6 270.6 L223.6 297.2 L222.5 317.5 L187.5 317.5 L187.1 303.5Z"/>
<path class="co" fill="#bf2b00" d="M224 255 L240.3 255.5 L241 261.4 L257.5 279.5 L257.4 288.5 L253 289.6 L253 300.8 L246.3 303 L234 300.8 L230.6 304 L223.6 297.2 L223.6 270.6Z"/>
<path class="co" fill="#cd494d" d="M142.8 302.7 L187.1 303.5 L187.1 333 L182.3 333 L182.3 343 L177.7 343 L177.7 335.4 L142.4 335.4 L142.8 317.5Z"/>
<path class="co" fill="#cd494d" d="M92 317.5 L142.8 317.5 L142.4 335.4 L142 358.7 L92 358.7Z"/>
<path class="co" fill="#bf2b00" d="M187.5 317.5 L222.5 317.5 L222.5 334.7 L213.4 334.7 L213.4 343.5 L182.3 343 L182.3 333 L187.1 333Z"/>
<path class="co" fill="#cd494d" d="M142.4 335.4 L177.7 335.4 L177.7 343 L177.7 366.5 L142 366.5 L142 358.7Z"/>
<path class="co" fill="#cd494d" d="M177.7 343 L213.4 343.5 L213.8 383 L178 383 L177.7 366.5Z"/>
<path class="co" fill="#cd494d" d="M92 358.7 L142 358.7 L142 366.5 L141.5 388.8 L92 388.8Z"/>
<path class="co" fill="#cd494d" d="M142 366.5 L177.7 366.5 L178 383 L178.3 396.5 L141.5 396.5 L141.5 388.8Z"/>
<path class="co" fill="#cd494d" d="M92 388.8 L141.5 388.8 L141.5 396.5 L142 420.2 L92 420.2Z"/>
<path class="co" fill="#cd494d" d="M141.5 396.5 L178.3 396.5 L178.3 422 L178.5 426.6 L178.5 433.5 L141.5 433.5 L142 420.2Z"/>
<path class="co" fill="#cd494d" d="M178 383 L213.8 383 L222.8 383 L222.8 417.7 L183.5 416.5 L178.3 422 L178.3 396.5Z"/>
<path class="co" fill="#dd9170" d="M183.5 416.5 L222.8 417.7 L236.3 417.7 L236.5 444.7 L203 444.7 L201 444.7 L201 426.6 L178.5 426.6 L178.3 422Z"/>
<path class="co" fill="#bf2b00" d="M178.5 426.6 L201 426.6 L201 444.7 L203 444.7 L203 482 L181 482 L181 433.5 L178.5 433.5Z"/>
<path class="co" fill="#bf2b00" d="M203 444.7 L236.5 444.7 L236.7 445.6 L247.4 445.6 L247.4 482 L203 482Z"/>
<path class="co" fill="#cd494d" d="M92 420.2 L142 420.2 L141.5 433.5 L141.3 450.3 L92 450.3Z"/>
<path class="co" fill="#bf2b00" d="M92 450.3 L141.3 450.3 L141.3 482 L92 482Z"/>
<path class="co" fill="#bf2b00" d="M141.5 433.5 L181 433.5 L181 482 L141.3 482 L141.3 450.3Z"/>
<path class="co" fill="#cd494d" d="M213.4 334.7 L222.5 334.7 L239.7 335.5 L239.7 377.3 L222.8 377.3 L222.8 383 L213.8 383 L213.4 343.5Z"/>
<path class="co" fill="#bf2b00" d="M222.8 377.3 L253.7 377.3 L253.7 418 L236.3 417.7 L222.8 417.7 L222.8 383Z"/>
<path class="co" fill="#bf2b00" d="M253.7 377.3 L289.8 377.3 L289.8 420 L253.7 419 L253.7 418Z"/>
<path class="co" fill="#cd494d" d="M239.7 335.5 L258.5 335.5 L263 343.2 L268.6 343.2 L275.3 338.7 L275.7 352 L289.8 358.8 L289.8 364.4 L289.8 377.3 L239.7 377.3Z"/>
<path class="co" fill="#cd494d" d="M223.6 297.2 L230.6 304 L234 300.8 L246.3 303 L253 300.8 L253 289.6 L257.4 288.5 L257.4 303 L263 316.4 L268.6 322 L276.4 322.5 L275.3 338.7 L268.6 343.2 L263 343.2 L258.5 335.5 L239.7 335.5 L222.5 334.7 L222.5 317.5Z"/>
<path class="co" fill="#cd494d" d="M257.5 279.5 L269.7 279.6 L276.4 288.5 L293 289.6 L293 294.5 L293 322 L276.4 322.5 L268.6 322 L263 316.4 L257.4 303 L257.4 288.5Z"/>
<path class="co" fill="#cd494d" d="M293 294.5 L337.5 294.5 L337.5 308 L326.6 319.7 L311 322 L307 323 L293 322Z"/>
<path class="co" fill="#dd9170" d="M276.4 322.5 L293 322 L307 323 L307 364.4 L289.8 364.4 L289.8 358.8 L275.7 352 L275.3 338.7Z"/>
<path class="co" fill="#cd494d" d="M307 323 L311 322 L326.6 319.7 L337.5 308 L347 308 L346.7 344.5 L325.5 344.5 L325.5 364.4 L307 364.4Z"/>
<path class="co" fill="#cd494d" d="M347 302.5 L359.5 302.5 L381.5 302.7 L381.8 348.4 L378.5 349.6 L378.5 353 L365 353 L365 345 L346.7 344.5 L347 308Z"/>
<path class="co" fill="#cd494d" d="M381.5 302.7 L405.7 302.7 L416.8 317.3 L420.6 321.2 L419 321.2 L419 330 L418.7 348.4 L381.8 348.4Z"/>
<path class="co" fill="#cd494d" d="M325.5 344.5 L346.7 344.5 L365 345 L365 353 L378.5 353 L378.5 364 L365 364.7 L365 372 L373 373 L373 382 L376.3 382.6 L345 382.6 L337.8 382 L330 382 L330 364.5 L325.5 364.4Z"/>
<path class="co" fill="#cd494d" d="M289.8 364.4 L307 364.4 L325.5 364.4 L330 364.5 L330 382 L337.8 382 L337.8 420 L302 420 L289.8 420 L289.8 377.3Z"/>
<path class="co" fill="#dd9170" d="M419 321.2 L420.6 321.2 L438.4 315.6 L444 322.3 L434 333.5 L456.3 353.6 L460.8 352.5 L460.8 358.5 L427.6 358.5 L419.8 358.5 L418.7 348.4 L419 330Z"/>
<path class="co" fill="#dd9170" d="M438.4 315.6 L443 311 L447.4 306.7 L465 296 L495 325 L482 331.3 L460.8 352.5 L456.3 353.6 L434 333.5 L444 322.3Z"/>
<path class="co" fill="#dd9170" d="M482 331.3 L495 325 L525 350 L525 361.4 L483 361.4 L460.8 361.4 L460.8 358.5 L460.8 352.5Z"/>
<path class="co" fill="#cd494d" d="M378.5 349.6 L381.8 348.4 L418.7 348.4 L419.8 358.5 L427.6 358.5 L427.6 391.5 L427.6 396.4 L413 396.4 L413 392 L410.9 385.3 L409.7 363 L378.5 364 L378.5 353Z"/>
<path class="co" fill="#cd494d" d="M427.6 358.5 L460.8 358.5 L460.8 361.4 L460.8 390.4 L455.2 391.5 L427.6 391.5Z"/>
<path class="co" fill="#cd494d" d="M365 364.7 L378.5 364 L409.7 363 L410.9 385.3 L413 392 L413 396.4 L412 409.8 L409.7 418.8 L395.2 418.8 L393 414.3 L381.8 402 L377.4 392 L376.3 382.6 L373 382 L373 373 L365 372Z"/>
<path class="co" fill="#bf2b00" d="M337.8 382 L345 382.6 L376.3 382.6 L377.4 392 L381.8 402 L393 414.3 L374 415.4 L374 435.5 L338.2 435.5 L337.8 420Z"/>
<path class="co" fill="#bf2b00" d="M374 415.4 L393 414.3 L395.2 418.8 L409.7 418.8 L414.2 418.8 L419.8 431.7 L419.8 441 L382 442.5 L374 442.2 L374 435.5Z"/>
<path class="co" fill="#cd494d" d="M413 396.4 L427.6 396.4 L427.6 391.5 L455.2 391.5 L455.2 413.9 L463 416 L464.4 418.8 L453.5 430 L453.3 431.7 L419.8 431.7 L414.2 418.8 L409.7 418.8 L412 409.8Z"/>
<path class="co" fill="#cd494d" d="M460.8 361.4 L483 361.4 L484.2 409.4 L476.4 409.4 L476.4 415 L475.4 418.2 L464.4 418.8 L463 416 L455.2 413.9 L455.2 391.5 L460.8 390.4Z"/>
<path class="co" fill="#dd9170" d="M483 361.4 L525 361.4 L530 380 L525 397 L513.2 393.8 L508.8 393.8 L499.8 398 L492 407 L491.7 408.6 L484.2 409.4Z"/>
<path class="co" fill="#cd494d" d="M453.5 430 L464.4 418.8 L475.4 418.2 L476.4 415 L476.4 409.4 L484.2 409.4 L491.7 408.6 L491.7 415.3 L498.4 433.5 L498.4 446 L498.4 458.4 L478.3 460.3 L463 459.3 L458.2 442Z"/>
<path class="co" fill="#dd9170" d="M491.7 408.6 L492 407 L499.8 398 L508.8 393.8 L513.2 393.8 L525 397 L532 410 L528 419 L513.7 435.4 L519 443 L498.4 446 L498.4 433.5 L491.7 415.3Z"/>
<path class="co" fill="#cd494d" d="M513.7 435.4 L528 419 L532 405 L555 405 L555 470 L535 470 L529 455.5Z"/>
<path class="co" fill="#dd9170" d="M478.3 460.3 L498.4 458.4 L498.4 446 L519 443 L513.7 435.4 L529 455.5 L535 470 L535 490 L515 486 L497.4 481 L497.4 483.5 L479.2 484.2Z"/>
<path class="co" fill="#dd9170" d="M479.2 484.2 L497.4 483.5 L497.4 481 L515 486 L535 490 L535 532 L480.2 532Z"/>
<path class="co" fill="#cd494d" d="M463 459.3 L478.3 460.3 L479.2 484.2 L480.2 532 L430 532 L430 474 L460 473.7 L458.2 471.8 L460 465Z"/>
<path class="co" fill="#dd9170" d="M419.8 431.7 L453.3 431.7 L453.5 430 L458.2 442 L463 459.3 L460 465 L458.2 471.8 L460 473.7 L460 482 L423 482 L423 443.3 L419.8 441Z"/>
<path class="co" fill="#cd494d" d="M382 442.5 L419.8 441 L423 443.3 L423 482 L382 482Z"/>
<path class="co" fill="#bf2b00" d="M338.2 435.5 L374 435.5 L374 442.2 L382 442.5 L382 482 L338.2 482Z"/>
<path class="co" fill="#cd494d" d="M302 420 L337.8 420 L338.2 435.5 L338.2 482 L301 482 L301 446 L302 445.6Z"/>
<path class="co" fill="#bf2b00" d="M236.3 417.7 L253.7 418 L253.7 419 L289.8 420 L302 420 L302 445.6 L247.4 445.6 L236.7 445.6 L236.5 444.7Z"/>
<path class="co" fill="#bf2b00" d="M247.4 445.6 L302 445.6 L301 446 L301 482 L247.4 482Z"/>
<use href="#roads"/>
</g>
<path class="ol" d="M13 57.7 L57.5 59.5 L101.5 61.2 L150 62.3 L200 61.3 L252 59.2 L285 58.2 L328 57 L331.2 61.2 L335.9 65.9 L340.7 72.3 L343.9 77.9 L351.1 81.1 L347.9 88.3 L345.5 96.3 L344.7 105.8 L346.3 113.8 L349.5 122.6 L351.9 126.6 L351.1 131.3 L352.7 135.3 L357.5 140.9 L357.5 145.7 L360.7 151.3 L366.3 156 L371.8 160 L377.4 164.8 L381.4 169.6 L382.2 176 L388.6 179.2 L395 184 L402.9 190.4 L408.5 195.1 L409.4 196 L410.8 202.2 L412.9 209.4 L411.9 216.5 L413.7 226.6 L417.2 230.9 L422.3 233 L427.3 229.4 L430.2 223.7 L436.6 223 L442.4 227.3 L449.5 229.4 L458.2 233.8 L458.9 236.6 L455.3 242.4 L452.4 246.7 L453.8 255.3 L451.7 262.5 L448.1 268.2 L445.2 273.2 L440.9 279.7 L439.5 286.9 L440.2 295.5 L443.8 302.6 L449.5 308.4 L456.7 314.1 L462.5 318.4 L471.1 322.7 L475.4 324.9 L473.2 327.8 L479.7 329.2 L485 331.4 L497.6 340.2 L511 353.6 L513.2 361.4 L511 363.6 L518.8 378 L516.6 387 L513.2 393.8 L516.6 400 L520.4 405.7 L524.2 412.4 L528 419 L530 414.4 L533.8 413.4 L535.7 417.2 L539.5 422 L546.2 422 L546.8 428.7 L543.3 438.3 L546.2 443 L542.4 445 L543.3 453.6 L539.5 463.2 L533.8 461.2 L529 455.5 L525.2 463.2 L522.3 469.9 L518.5 475.6 L515.6 470.8 L512.7 466 L509.9 468 L512.7 475.6 L515.6 482.3 L511.8 486 L508 482.3 L506 485.2 L509.9 491.9 L513.7 494.7 L509.9 497.6 L505 498.6 L503.2 502.4 L508.9 507.2 L508 512.9 L499.3 522.5 L480.2 524 L446.7 525.4 L451.5 514.8 L459 508 L468.7 498.6 L470.6 490 L464.9 480.4 L460 473.7 L390 475.5 L300 476.5 L200 476.6 L94.7 476 L98 330 L100.4 215 L102.3 210.3 L103.6 206.5 L100.4 202.6 L97.2 205.2 L93.4 203.3 L88.9 202 L88.3 198.8 L85.1 198.2 L83.2 195 L78.7 191.1 L77.4 186.7 L80 184.1 L77.4 180.9 L73 179 L71.1 174.6 L67.2 171.4 L65.3 167.5 L61.5 165.6 L62.1 162.4 L65.9 158.6 L69.1 154.1 L73.6 152.2 L73.6 148.4 L74.9 145.8 L80.6 146.5 L81.3 144.6 L76.2 142.7 L77.4 140.7 L81.9 140.7 L80.6 137.6 L77.4 135 L74.6 131.6 L71.4 127.6 L67.4 130 L61 129.2 L56.3 127.6 L55.5 123.6 L49.1 118.8 L44.3 114.8 L39.5 111.6 L41.1 107.6 L39.5 101.3 L35.5 97.3 L33.9 91.7 L27.5 85.3 L22.8 86.1 L21.2 84.5 L25.2 82.9 L23.6 78.9 L21.2 72.5 L18.8 67.8 L22 65.4 L21.5 61.4 L18.8 61.4 L18 63.8 L13.2 63Z"/>
<use href="#hosp"/>
</g>
<g transform="translate(0,475)" filter="url(#soft)">
<g clip-path="url(#mo)">
<path d="M13 57.7 L57.5 59.5 L101.5 61.2 L150 62.3 L200 61.3 L252 59.2 L285 58.2 L328 57 L331.2 61.2 L335.9 65.9 L340.7 72.3 L343.9 77.9 L351.1 81.1 L347.9 88.3 L345.5 96.3 L344.7 105.8 L346.3 113.8 L349.5 122.6 L351.9 126.6 L351.1 131.3 L352.7 135.3 L357.5 140.9 L357.5 145.7 L360.7 151.3 L366.3 156 L371.8 160 L377.4 164.8 L381.4 169.6 L382.2 176 L388.6 179.2 L395 184 L402.9 190.4 L408.5 195.1 L409.4 196 L410.8 202.2 L412.9 209.4 L411.9 216.5 L413.7 226.6 L417.2 230.9 L422.3 233 L427.3 229.4 L430.2 223.7 L436.6 223 L442.4 227.3 L449.5 229.4 L458.2 233.8 L458.9 236.6 L455.3 242.4 L452.4 246.7 L453.8 255.3 L451.7 262.5 L448.1 268.2 L445.2 273.2 L440.9 279.7 L439.5 286.9 L440.2 295.5 L443.8 302.6 L449.5 308.4 L456.7 314.1 L462.5 318.4 L471.1 322.7 L475.4 324.9 L473.2 327.8 L479.7 329.2 L485 331.4 L497.6 340.2 L511 353.6 L513.2 361.4 L511 363.6 L518.8 378 L516.6 387 L513.2 393.8 L516.6 400 L520.4 405.7 L524.2 412.4 L528 419 L530 414.4 L533.8 413.4 L535.7 417.2 L539.5 422 L546.2 422 L546.8 428.7 L543.3 438.3 L546.2 443 L542.4 445 L543.3 453.6 L539.5 463.2 L533.8 461.2 L529 455.5 L525.2 463.2 L522.3 469.9 L518.5 475.6 L515.6 470.8 L512.7 466 L509.9 468 L512.7 475.6 L515.6 482.3 L511.8 486 L508 482.3 L506 485.2 L509.9 491.9 L513.7 494.7 L509.9 497.6 L505 498.6 L503.2 502.4 L508.9 507.2 L508 512.9 L499.3 522.5 L480.2 524 L446.7 525.4 L451.5 514.8 L459 508 L468.7 498.6 L470.6 490 L464.9 480.4 L460 473.7 L390 475.5 L300 476.5 L200 476.6 L94.7 476 L98 330 L100.4 215 L102.3 210.3 L103.6 206.5 L100.4 202.6 L97.2 205.2 L93.4 203.3 L88.9 202 L88.3 198.8 L85.1 198.2 L83.2 195 L78.7 191.1 L77.4 186.7 L80 184.1 L77.4 180.9 L73 179 L71.1 174.6 L67.2 171.4 L65.3 167.5 L61.5 165.6 L62.1 162.4 L65.9 158.6 L69.1 154.1 L73.6 152.2 L73.6 148.4 L74.9 145.8 L80.6 146.5 L81.3 144.6 L76.2 142.7 L77.4 140.7 L81.9 140.7 L80.6 137.6 L77.4 135 L74.6 131.6 L71.4 127.6 L67.4 130 L61 129.2 L56.3 127.6 L55.5 123.6 L49.1 118.8 L44.3 114.8 L39.5 111.6 L41.1 107.6 L39.5 101.3 L35.5 97.3 L33.9 91.7 L27.5 85.3 L22.8 86.1 L21.2 84.5 L25.2 82.9 L23.6 78.9 L21.2 72.5 L18.8 67.8 L22 65.4 L21.5 61.4 L18.8 61.4 L18 63.8 L13.2 63Z" fill="#dd9170"/>
<path class="co" fill="#eeb195" d="M5 50 L57.5 50 L57.5 92 L5 92Z"/>
<path class="co" fill="#eeb195" d="M5 92 L65.8 92 L67 100 L69.5 110.8 L70.3 120 L71.4 128.7 L75 137.6 L5 137.6Z"/>
<path class="co" fill="#eeb195" d="M57.5 50 L101.5 50 L102.5 106.4 L68.5 106.4 L67 100 L65.8 92 L57.5 92Z"/>
<path class="co" fill="#eeb195" d="M68.5 106.4 L102.5 106.4 L102.5 137.6 L75 137.6 L71.4 128.7 L70.3 120 L69.5 110.8Z"/>
<path class="co" fill="#eeb195" d="M55 137.6 L102.5 137.6 L102.5 166.6 L55 166.6Z"/>
<path class="co" fill="#f6cfbb" d="M55 166.6 L102.5 166.6 L102.5 175 L103 208 L55 208Z"/>
<path class="co" fill="#f6cfbb" d="M102.5 175 L133 175 L133.3 201.1 L131.4 199.8 L128.8 198.2 L125.6 198.5 L123.1 201.4 L120.5 204.6 L118.3 203.9 L117 201.7 L116.7 203.9 L114.8 207.1 L112.2 208.7 L109.7 207.4 L105.8 207.8 L103.6 206.5 L102.5 190Z"/>
<path class="co" fill="#eeb195" d="M101.5 50 L132.5 50 L133 80.3 L102 80.3Z"/>
<path class="co" fill="#dd9170" d="M102 80.3 L133 80.3 L133.7 115.8 L102.6 115.8Z"/>
<path class="co" fill="#eeb195" d="M102.6 115.8 L133.7 115.8 L134 144.8 L102.7 144.8Z"/>
<path class="co" fill="#eeb195" d="M102.7 144.8 L134 144.8 L133.5 174.7 L133 175 L102.5 175Z"/>
<path class="co" fill="#dd9170" d="M132.5 50 L168.4 50 L168.4 106.4 L133.5 106.4 L133 80.3Z"/>
<path class="co" fill="#dd9170" d="M133.5 106.4 L168.4 106.4 L168.6 141.8 L134 141.8 L133.7 115.8Z"/>
<path class="co" fill="#eeb195" d="M134 141.8 L168.6 141.8 L168.8 168.3 L133.7 168.3 L134 144.8Z"/>
<path class="co" fill="#eeb195" d="M133.7 168.3 L168.8 168.3 L168.5 201.4 L161 203.5 L153.5 204.5 L147 201.5 L142 205.8 L140.2 207 L135.3 203.6 L133.3 201.1 L133 175 L133.5 174.7Z"/>
<path class="co" fill="#dd9170" d="M168.4 50 L199.5 50 L199.5 93.2 L168.4 93.2Z"/>
<path class="co" fill="#dd9170" d="M168.4 93.2 L199.5 93.2 L199.7 124.4 L168.6 124.4Z"/>
<path class="co" fill="#eeb195" d="M168.6 124.4 L199.7 124.4 L200 151 L206.4 151.3 L206.4 159.7 L168.8 159.7Z"/>
<path class="co" fill="#eeb195" d="M168.8 159.7 L206.4 159.7 L206.2 162.3 L208.4 175.7 L211.7 179 L206.2 189 L195 199.2 L188.5 200 L178 201 L168.5 201.4Z"/>
<path class="co" fill="#eeb195" d="M199.5 50 L252.2 50 L252.2 85.8 L240 85.8 L240 80.8 L199.5 80.8Z"/>
<path class="co" fill="#dd9170" d="M252.2 50 L279.5 50 L279.5 85.8 L252.2 85.8Z"/>
<path class="co" fill="#dd9170" d="M199.5 80.8 L240 80.8 L240 116.6 L199.7 116.6Z"/>
<path class="co" fill="#eeb195" d="M240 85.8 L279.5 85.8 L279.5 116.6 L240 116.6Z"/>
<path class="co" fill="#dd9170" d="M199.7 116.6 L240 116.6 L240.2 151.2 L200 151Z"/>
<path class="co" fill="#dd9170" d="M240 116.6 L279.5 116.6 L279.5 125 L284 125 L284 160 L252.5 160 L252.5 151.3 L240.2 151.2Z"/>
<path class="co" fill="#eeb195" d="M206.4 151.3 L252.5 151.3 L252.4 189 L245.2 188 L236.3 200.3 L231.8 194.7 L224 189 L217.3 181.3 L211.7 179 L208.4 175.7 L206.2 162.3Z"/>
<path class="co" fill="#eeb195" d="M252.5 160 L284 160 L284 197 L273.1 197 L252.4 189Z"/>
<path class="co" fill="#cd494d" d="M279.5 50 L310.3 50 L310.3 89.3 L279.5 89.3Z"/>
<path class="co" fill="#dd9170" d="M279.5 89.3 L310.3 89.3 L310.3 125 L279.5 125Z"/>
<path class="co" fill="#dd9170" d="M310.3 50 L370 50 L370 94.2 L310.3 94.2Z"/>
<path class="co" fill="#eeb195" d="M310.3 94.2 L370 94.2 L370 125.5 L310.3 125.5Z"/>
<path class="co" fill="#dd9170" d="M284 125 L319.5 125.5 L319.5 154.5 L292.5 154.5 L292.5 160 L284 160Z"/>
<path class="co" fill="#eeb195" d="M284 160 L292.5 160 L292.5 154.5 L329.6 154.5 L329.6 187 L284 187Z"/>
<path class="co" fill="#eeb195" d="M319.5 125.5 L370 125.5 L370 152 L329.6 152 L329.6 154.5 L319.5 154.5Z"/>
<path class="co" fill="#eeb195" d="M329.6 152 L375 152 L369.3 160 L350.3 176.7 L350.3 187 L329.6 187Z"/>
<path class="co" fill="#eeb195" d="M350.3 176.7 L369.3 160 L425 160 L425 198.5 L367 198.5 L367 206.7 L353.7 206.7 L353.7 187 L350.3 187Z"/>
<path class="co" fill="#eeb195" d="M284 187 L353.7 187 L353.7 206.7 L337.5 206.7 L337.5 215.5 L299 215.5 L299 197 L284 197Z"/>
<path class="co" fill="#dd9170" d="M337.5 206.7 L367 206.7 L367 238 L355.2 238 L355.2 252.5 L337.5 252.5Z"/>
<path class="co" fill="#eeb195" d="M367 198.5 L425 198.5 L425 231.3 L391.2 231.3 L391.2 233.5 L379.4 233.5 L379.4 229 L367 221Z"/>
<path class="co" fill="#eeb195" d="M367 221 L379.4 229 L379.4 233.5 L391.2 233.5 L391.2 238 L367 238Z"/>
<path class="co" fill="#f6cfbb" d="M391.2 231.3 L402.3 231.3 L416.8 228 L424 215 L465 215 L465 236.2 L455.8 236.2 L452.5 231.7 L448 234 L442.4 230.6 L439 231.7 L436.8 237.3 L431.3 238.4 L425.7 247.4 L422.3 249.6 L413.4 251.8 L410.8 254.7 L402.3 262.6 L396.7 267 L391.2 266Z"/>
<path class="co" fill="#f6cfbb" d="M410.8 254.7 L413.4 251.8 L422.3 249.6 L425.7 247.4 L431.3 238.4 L436.8 237.3 L439 231.7 L442.4 230.6 L448 234 L452.5 231.7 L455.8 236.2 L465 236.2 L465 272 L445.9 272.6 L433.6 270.4 L419 272.6 L411.3 273.7Z"/>
<path class="co" fill="#eeb195" d="M452.4 243.5 L460 241 L460 262 L449.5 268 L445 264.5 L443.5 256 L446.5 249.5Z"/>
<path class="co" fill="#eeb195" d="M355.2 238 L391.2 238 L391.2 266 L396.7 267 L402.3 262.6 L410.8 254.7 L411.3 273.7 L408 290 L405.7 302.7 L381.5 302.7 L359.5 302.5 L359.5 252.5 L355.2 252.5Z"/>
<path class="co" fill="#eeb195" d="M411.3 273.7 L419 272.6 L433.6 270.4 L445.9 272.6 L465 272 L465 306 L447.4 306.7 L443 311 L438.4 315.6 L420.6 321.2 L416.8 317.3 L405.7 302.7 L408 290Z"/>
<path class="co" fill="#eeb195" d="M337.5 252.5 L359.5 252.5 L359.5 302.5 L347 302.5 L347 308 L337.5 308Z"/>
<path class="co" fill="#eeb195" d="M273.1 197 L299 197 L299 215.5 L296.6 217 L295.5 229.3 L293.2 240.5 L289.9 251.6 L291 261 L284.3 256 L277.6 249.4 L277 241.5 L267.5 231 L263.1 224.8Z"/>
<path class="co" fill="#eeb195" d="M299 215.5 L337.5 215.5 L337.5 252.5 L330 252 L320 255 L307 266 L293 266 L291 261 L289.9 251.6 L293.2 240.5 L295.5 229.3 L296.6 217Z"/>
<path class="co" fill="#eeb195" d="M245.2 188 L252.4 189 L273.1 197 L263.1 224.8 L234.1 217 L237.4 204.7 L236.3 200.3Z"/>
<path class="co" fill="#eeb195" d="M189 200 L195 199.2 L206.2 189 L211.7 179 L217.3 181.3 L224 189 L231.8 194.7 L236.3 200.3 L237.4 204.7 L234.1 217 L224 228.2 L189.3 228.2Z"/>
<path class="co" fill="#eeb195" d="M234.1 217 L263.1 224.8 L267.5 231 L259.5 255 L240.3 255.5 L224 255 L224 228.2Z"/>
<path class="co" fill="#dd9170" d="M267.5 231 L277 241.5 L277.6 249.4 L270 278.5 L269.7 279.6 L257.5 279.5 L241 261.4 L240.3 255.5 L259.5 255Z"/>
<path class="co" fill="#eeb195" d="M277.6 249.4 L284.3 256 L291 261 L293 266 L307 266 L307.7 273 L300 282 L293 289.6 L276.4 288.5 L269.7 279.6 L270 278.5Z"/>
<path class="co" fill="#eeb195" d="M307 266 L320 255 L330 252 L337.5 252.5 L337.5 294.5 L293 294.5 L293 289.6 L300 282 L307.7 273Z"/>
<path class="co" fill="#eeb195" d="M140.2 207 L142 205.8 L147 201.5 L153.5 204.5 L161 203.5 L168.5 201.4 L178 201 L188.5 200 L189 200 L189.3 228.2 L162 229 L162 230.8 L140.2 230.8Z"/>
<path class="co" fill="#eeb195" d="M92 209 L103.6 206.5 L105.8 207.8 L109.7 207.4 L112.2 208.7 L114.8 207.1 L116.7 203.9 L117 201.7 L118.3 203.9 L120.5 204.6 L123.1 201.4 L125.6 198.5 L128.8 198.2 L131.4 199.8 L133.3 201.1 L135.3 203.6 L140.2 207 L140.2 238.2 L92 237.7Z"/>
<path class="co" fill="#eeb195" d="M92 237.7 L139.7 238.4 L139 265 L142.6 266 L142 276.5 L92 275Z"/>
<path class="co" fill="#eeb195" d="M140.2 230.8 L162 230.8 L162 229 L189.3 228.2 L187.7 266.2 L142.6 266 L139 265 L139.7 238.4 L140.2 238.2Z"/>
<path class="co" fill="#cd494d" d="M189.3 228.2 L224 228.2 L224 255 L223.6 270.6 L187.5 270.6 L187.7 266.2Z"/>
<path class="co" fill="#eeb195" d="M142.6 266 L187.7 266.2 L187.5 270.6 L187.1 303.5 L142.8 302.7 L142 276.5Z"/>
<path class="co" fill="#eeb195" d="M92 275 L142 276.5 L142.8 302.7 L142.8 317.5 L92 317.5Z"/>
<path class="co" fill="#dd9170" d="M187.5 270.6 L223.6 270.6 L223.6 297.2 L222.5 317.5 L187.5 317.5 L187.1 303.5Z"/>
<path class="co" fill="#cd494d" d="M224 255 L240.3 255.5 L241 261.4 L257.5 279.5 L257.4 288.5 L253 289.6 L253 300.8 L246.3 303 L234 300.8 L230.6 304 L223.6 297.2 L223.6 270.6Z"/>
<path class="co" fill="#dd9170" d="M142.8 302.7 L187.1 303.5 L187.1 333 L182.3 333 L182.3 343 L177.7 343 L177.7 335.4 L142.4 335.4 L142.8 317.5Z"/>
<path class="co" fill="#dd9170" d="M92 317.5 L142.8 317.5 L142.4 335.4 L142 358.7 L92 358.7Z"/>
<path class="co" fill="#dd9170" d="M187.5 317.5 L222.5 317.5 L222.5 334.7 L213.4 334.7 L213.4 343.5 L182.3 343 L182.3 333 L187.1 333Z"/>
<path class="co" fill="#dd9170" d="M142.4 335.4 L177.7 335.4 L177.7 343 L177.7 366.5 L142 366.5 L142 358.7Z"/>
<path class="co" fill="#dd9170" d="M177.7 343 L213.4 343.5 L213.8 383 L178 383 L177.7 366.5Z"/>
<path class="co" fill="#dd9170" d="M92 358.7 L142 358.7 L142 366.5 L141.5 388.8 L92 388.8Z"/>
<path class="co" fill="#dd9170" d="M142 366.5 L177.7 366.5 L178 383 L178.3 396.5 L141.5 396.5 L141.5 388.8Z"/>
<path class="co" fill="#dd9170" d="M92 388.8 L141.5 388.8 L141.5 396.5 L142 420.2 L92 420.2Z"/>
<path class="co" fill="#dd9170" d="M141.5 396.5 L178.3 396.5 L178.3 422 L178.5 426.6 L178.5 433.5 L141.5 433.5 L142 420.2Z"/>
<path class="co" fill="#eeb195" d="M178 383 L213.8 383 L222.8 383 L222.8 417.7 L183.5 416.5 L178.3 422 L178.3 396.5Z"/>
<path class="co" fill="#eeb195" d="M183.5 416.5 L222.8 417.7 L236.3 417.7 L236.5 444.7 L203 444.7 L201 444.7 L201 426.6 L178.5 426.6 L178.3 422Z"/>
<path class="co" fill="#dd9170" d="M178.5 426.6 L201 426.6 L201 444.7 L203 444.7 L203 482 L181 482 L181 433.5 L178.5 433.5Z"/>
<path class="co" fill="#dd9170" d="M203 444.7 L236.5 444.7 L236.7 445.6 L247.4 445.6 L247.4 482 L203 482Z"/>
<path class="co" fill="#dd9170" d="M92 420.2 L142 420.2 L141.5 433.5 L141.3 450.3 L92 450.3Z"/>
<path class="co" fill="#cd494d" d="M92 450.3 L141.3 450.3 L141.3 482 L92 482Z"/>
<path class="co" fill="#cd494d" d="M141.5 433.5 L181 433.5 L181 482 L141.3 482 L141.3 450.3Z"/>
<path class="co" fill="#dd9170" d="M213.4 334.7 L222.5 334.7 L239.7 335.5 L239.7 377.3 L222.8 377.3 L222.8 383 L213.8 383 L213.4 343.5Z"/>
<path class="co" fill="#dd9170" d="M222.8 377.3 L253.7 377.3 L253.7 418 L236.3 417.7 L222.8 417.7 L222.8 383Z"/>
<path class="co" fill="#cd494d" d="M253.7 377.3 L289.8 377.3 L289.8 420 L253.7 419 L253.7 418Z"/>
<path class="co" fill="#dd9170" d="M239.7 335.5 L258.5 335.5 L263 343.2 L268.6 343.2 L275.3 338.7 L275.7 352 L289.8 358.8 L289.8 364.4 L289.8 377.3 L239.7 377.3Z"/>
<path class="co" fill="#dd9170" d="M223.6 297.2 L230.6 304 L234 300.8 L246.3 303 L253 300.8 L253 289.6 L257.4 288.5 L257.4 303 L263 316.4 L268.6 322 L276.4 322.5 L275.3 338.7 L268.6 343.2 L263 343.2 L258.5 335.5 L239.7 335.5 L222.5 334.7 L222.5 317.5Z"/>
<path class="co" fill="#dd9170" d="M257.5 279.5 L269.7 279.6 L276.4 288.5 L293 289.6 L293 294.5 L293 322 L276.4 322.5 L268.6 322 L263 316.4 L257.4 303 L257.4 288.5Z"/>
<path class="co" fill="#dd9170" d="M293 294.5 L337.5 294.5 L337.5 308 L326.6 319.7 L311 322 L307 323 L293 322Z"/>
<path class="co" fill="#eeb195" d="M276.4 322.5 L293 322 L307 323 L307 364.4 L289.8 364.4 L289.8 358.8 L275.7 352 L275.3 338.7Z"/>
<path class="co" fill="#dd9170" d="M307 323 L311 322 L326.6 319.7 L337.5 308 L347 308 L346.7 344.5 L325.5 344.5 L325.5 364.4 L307 364.4Z"/>
<path class="co" fill="#dd9170" d="M347 302.5 L359.5 302.5 L381.5 302.7 L381.8 348.4 L378.5 349.6 L378.5 353 L365 353 L365 345 L346.7 344.5 L347 308Z"/>
<path class="co" fill="#dd9170" d="M381.5 302.7 L405.7 302.7 L416.8 317.3 L420.6 321.2 L419 321.2 L419 330 L418.7 348.4 L381.8 348.4Z"/>
<path class="co" fill="#dd9170" d="M325.5 344.5 L346.7 344.5 L365 345 L365 353 L378.5 353 L378.5 364 L365 364.7 L365 372 L373 373 L373 382 L376.3 382.6 L345 382.6 L337.8 382 L330 382 L330 364.5 L325.5 364.4Z"/>
<path class="co" fill="#dd9170" d="M289.8 364.4 L307 364.4 L325.5 364.4 L330 364.5 L330 382 L337.8 382 L337.8 420 L302 420 L289.8 420 L289.8 377.3Z"/>
<path class="co" fill="#eeb195" d="M419 321.2 L420.6 321.2 L438.4 315.6 L444 322.3 L434 333.5 L456.3 353.6 L460.8 352.5 L460.8 358.5 L427.6 358.5 L419.8 358.5 L418.7 348.4 L419 330Z"/>
<path class="co" fill="#eeb195" d="M438.4 315.6 L443 311 L447.4 306.7 L465 296 L495 325 L482 331.3 L460.8 352.5 L456.3 353.6 L434 333.5 L444 322.3Z"/>
<path class="co" fill="#eeb195" d="M482 331.3 L495 325 L525 350 L525 361.4 L483 361.4 L460.8 361.4 L460.8 358.5 L460.8 352.5Z"/>
<path class="co" fill="#eeb195" d="M378.5 349.6 L381.8 348.4 L418.7 348.4 L419.8 358.5 L427.6 358.5 L427.6 391.5 L427.6 396.4 L413 396.4 L413 392 L410.9 385.3 L409.7 363 L378.5 364 L378.5 353Z"/>
<path class="co" fill="#dd9170" d="M427.6 358.5 L460.8 358.5 L460.8 361.4 L460.8 390.4 L455.2 391.5 L427.6 391.5Z"/>
<path class="co" fill="#dd9170" d="M365 364.7 L378.5 364 L409.7 363 L410.9 385.3 L413 392 L413 396.4 L412 409.8 L409.7 418.8 L395.2 418.8 L393 414.3 L381.8 402 L377.4 392 L376.3 382.6 L373 382 L373 373 L365 372Z"/>
<path class="co" fill="#cd494d" d="M337.8 382 L345 382.6 L376.3 382.6 L377.4 392 L381.8 402 L393 414.3 L374 415.4 L374 435.5 L338.2 435.5 L337.8 420Z"/>
<path class="co" fill="#dd9170" d="M374 415.4 L393 414.3 L395.2 418.8 L409.7 418.8 L414.2 418.8 L419.8 431.7 L419.8 441 L382 442.5 L374 442.2 L374 435.5Z"/>
<path class="co" fill="#dd9170" d="M413 396.4 L427.6 396.4 L427.6 391.5 L455.2 391.5 L455.2 413.9 L463 416 L464.4 418.8 L453.5 430 L453.3 431.7 L419.8 431.7 L414.2 418.8 L409.7 418.8 L412 409.8Z"/>
<path class="co" fill="#dd9170" d="M460.8 361.4 L483 361.4 L484.2 409.4 L476.4 409.4 L476.4 415 L475.4 418.2 L464.4 418.8 L463 416 L455.2 413.9 L455.2 391.5 L460.8 390.4Z"/>
<path class="co" fill="#eeb195" d="M483 361.4 L525 361.4 L530 380 L525 397 L513.2 393.8 L508.8 393.8 L499.8 398 L492 407 L491.7 408.6 L484.2 409.4Z"/>
<path class="co" fill="#dd9170" d="M453.5 430 L464.4 418.8 L475.4 418.2 L476.4 415 L476.4 409.4 L484.2 409.4 L491.7 408.6 L491.7 415.3 L498.4 433.5 L498.4 446 L498.4 458.4 L478.3 460.3 L463 459.3 L458.2 442Z"/>
<path class="co" fill="#eeb195" d="M491.7 408.6 L492 407 L499.8 398 L508.8 393.8 L513.2 393.8 L525 397 L532 410 L528 419 L513.7 435.4 L519 443 L498.4 446 L498.4 433.5 L491.7 415.3Z"/>
<path class="co" fill="#dd9170" d="M513.7 435.4 L528 419 L532 405 L555 405 L555 470 L535 470 L529 455.5Z"/>
<path class="co" fill="#dd9170" d="M478.3 460.3 L498.4 458.4 L498.4 446 L519 443 L513.7 435.4 L529 455.5 L535 470 L535 490 L515 486 L497.4 481 L497.4 483.5 L479.2 484.2Z"/>
<path class="co" fill="#dd9170" d="M479.2 484.2 L497.4 483.5 L497.4 481 L515 486 L535 490 L535 532 L480.2 532Z"/>
<path class="co" fill="#dd9170" d="M463 459.3 L478.3 460.3 L479.2 484.2 L480.2 532 L430 532 L430 474 L460 473.7 L458.2 471.8 L460 465Z"/>
<path class="co" fill="#eeb195" d="M419.8 431.7 L453.3 431.7 L453.5 430 L458.2 442 L463 459.3 L460 465 L458.2 471.8 L460 473.7 L460 482 L423 482 L423 443.3 L419.8 441Z"/>
<path class="co" fill="#dd9170" d="M382 442.5 L419.8 441 L423 443.3 L423 482 L382 482Z"/>
<path class="co" fill="#dd9170" d="M338.2 435.5 L374 435.5 L374 442.2 L382 442.5 L382 482 L338.2 482Z"/>
<path class="co" fill="#dd9170" d="M302 420 L337.8 420 L338.2 435.5 L338.2 482 L301 482 L301 446 L302 445.6Z"/>
<path class="co" fill="#dd9170" d="M236.3 417.7 L253.7 418 L253.7 419 L289.8 420 L302 420 L302 445.6 L247.4 445.6 L236.7 445.6 L236.5 444.7Z"/>
<path class="co" fill="#dd9170" d="M247.4 445.6 L302 445.6 L301 446 L301 482 L247.4 482Z"/>
<use href="#roads"/>
</g>
<path class="ol" d="M13 57.7 L57.5 59.5 L101.5 61.2 L150 62.3 L200 61.3 L252 59.2 L285 58.2 L328 57 L331.2 61.2 L335.9 65.9 L340.7 72.3 L343.9 77.9 L351.1 81.1 L347.9 88.3 L345.5 96.3 L344.7 105.8 L346.3 113.8 L349.5 122.6 L351.9 126.6 L351.1 131.3 L352.7 135.3 L357.5 140.9 L357.5 145.7 L360.7 151.3 L366.3 156 L371.8 160 L377.4 164.8 L381.4 169.6 L382.2 176 L388.6 179.2 L395 184 L402.9 190.4 L408.5 195.1 L409.4 196 L410.8 202.2 L412.9 209.4 L411.9 216.5 L413.7 226.6 L417.2 230.9 L422.3 233 L427.3 229.4 L430.2 223.7 L436.6 223 L442.4 227.3 L449.5 229.4 L458.2 233.8 L458.9 236.6 L455.3 242.4 L452.4 246.7 L453.8 255.3 L451.7 262.5 L448.1 268.2 L445.2 273.2 L440.9 279.7 L439.5 286.9 L440.2 295.5 L443.8 302.6 L449.5 308.4 L456.7 314.1 L462.5 318.4 L471.1 322.7 L475.4 324.9 L473.2 327.8 L479.7 329.2 L485 331.4 L497.6 340.2 L511 353.6 L513.2 361.4 L511 363.6 L518.8 378 L516.6 387 L513.2 393.8 L516.6 400 L520.4 405.7 L524.2 412.4 L528 419 L530 414.4 L533.8 413.4 L535.7 417.2 L539.5 422 L546.2 422 L546.8 428.7 L543.3 438.3 L546.2 443 L542.4 445 L543.3 453.6 L539.5 463.2 L533.8 461.2 L529 455.5 L525.2 463.2 L522.3 469.9 L518.5 475.6 L515.6 470.8 L512.7 466 L509.9 468 L512.7 475.6 L515.6 482.3 L511.8 486 L508 482.3 L506 485.2 L509.9 491.9 L513.7 494.7 L509.9 497.6 L505 498.6 L503.2 502.4 L508.9 507.2 L508 512.9 L499.3 522.5 L480.2 524 L446.7 525.4 L451.5 514.8 L459 508 L468.7 498.6 L470.6 490 L464.9 480.4 L460 473.7 L390 475.5 L300 476.5 L200 476.6 L94.7 476 L98 330 L100.4 215 L102.3 210.3 L103.6 206.5 L100.4 202.6 L97.2 205.2 L93.4 203.3 L88.9 202 L88.3 198.8 L85.1 198.2 L83.2 195 L78.7 191.1 L77.4 186.7 L80 184.1 L77.4 180.9 L73 179 L71.1 174.6 L67.2 171.4 L65.3 167.5 L61.5 165.6 L62.1 162.4 L65.9 158.6 L69.1 154.1 L73.6 152.2 L73.6 148.4 L74.9 145.8 L80.6 146.5 L81.3 144.6 L76.2 142.7 L77.4 140.7 L81.9 140.7 L80.6 137.6 L77.4 135 L74.6 131.6 L71.4 127.6 L67.4 130 L61 129.2 L56.3 127.6 L55.5 123.6 L49.1 118.8 L44.3 114.8 L39.5 111.6 L41.1 107.6 L39.5 101.3 L35.5 97.3 L33.9 91.7 L27.5 85.3 L22.8 86.1 L21.2 84.5 L25.2 82.9 L23.6 78.9 L21.2 72.5 L18.8 67.8 L22 65.4 L21.5 61.4 L18.8 61.4 L18 63.8 L13.2 63Z"/>
<use href="#hosp"/>
</g>
<text class="yr" x="404" y="94.8" textLength="46" lengthAdjust="spacingAndGlyphs">2013</text>
<text class="sub" x="404" y="112.4" textLength="193" lengthAdjust="spacingAndGlyphs">Percent uninsured population in</text>
<text class="sub" x="404" y="129.2" textLength="126.3" lengthAdjust="spacingAndGlyphs">Missouri, ages 18-64</text>
<text class="yr" x="404" y="574" textLength="46" lengthAdjust="spacingAndGlyphs">2018</text>
<text class="sub" x="404" y="591.6" textLength="193" lengthAdjust="spacingAndGlyphs">Percent uninsured population in</text>
<text class="sub" x="404" y="608.4" textLength="126.3" lengthAdjust="spacingAndGlyphs">Missouri, ages 18-64</text>
<g transform="translate(0,0)">
<rect x="478.9" y="161.3" width="121.7" height="110.9" fill="#fff" stroke="#bdbdbd" stroke-width=".7"/>
<text class="lt" x="485.2" y="174.5" textLength="111" lengthAdjust="spacingAndGlyphs">Percent uninsured, 18-64</text>
<rect x="485.2" y="183.3" width="15.6" height="8.5" fill="#f6cfbb" stroke="#c4b5ae" stroke-width=".5"/>
<text class="ll" x="509" y="190.4">5% - 10%</text>
<rect x="485.2" y="198" width="15.6" height="8.5" fill="#eeb195" stroke="#c4b5ae" stroke-width=".5"/>
<text class="ll" x="509" y="205.1">10% - 15%</text>
<rect x="485.2" y="212.7" width="15.6" height="8.5" fill="#dd9170" stroke="#c4b5ae" stroke-width=".5"/>
<text class="ll" x="509" y="219.7">15% - 20%</text>
<rect x="485.2" y="227.3" width="15.6" height="8.5" fill="#cd494d" stroke="#c4b5ae" stroke-width=".5"/>
<text class="ll" x="509" y="234.4">20% - 25%</text>
<rect x="485.2" y="241.9" width="15.6" height="8.5" fill="#bf2b00" stroke="#c4b5ae" stroke-width=".5"/>
<text class="ll" x="509" y="249">25% - 30%</text>
<circle class="h" cx="493" cy="261.7" r="2.5"/>
<text class="ll" x="509" y="264.5">Hospitals (2018)</text>
</g>
<g transform="translate(0,483.7)">
<rect x="478.9" y="161.3" width="121.7" height="110.9" fill="#fff" stroke="#bdbdbd" stroke-width=".7"/>
<text class="lt" x="485.2" y="174.5" textLength="111" lengthAdjust="spacingAndGlyphs">Percent uninsured, 18-64</text>
<rect x="485.2" y="183.3" width="15.6" height="8.5" fill="#f6cfbb" stroke="#c4b5ae" stroke-width=".5"/>
<text class="ll" x="509" y="190.4">5% - 10%</text>
<rect x="485.2" y="198" width="15.6" height="8.5" fill="#eeb195" stroke="#c4b5ae" stroke-width=".5"/>
<text class="ll" x="509" y="205.1">10% - 15%</text>
<rect x="485.2" y="212.7" width="15.6" height="8.5" fill="#dd9170" stroke="#c4b5ae" stroke-width=".5"/>
<text class="ll" x="509" y="219.7">15% - 20%</text>
<rect x="485.2" y="227.3" width="15.6" height="8.5" fill="#cd494d" stroke="#c4b5ae" stroke-width=".5"/>
<text class="ll" x="509" y="234.4">20% - 25%</text>
<rect x="485.2" y="241.9" width="15.6" height="8.5" fill="#bf2b00" stroke="#c4b5ae" stroke-width=".5"/>
<text class="ll" x="509" y="249">25% - 30%</text>
<circle class="h" cx="493" cy="261.7" r="2.5"/>
<text class="ll" x="509" y="264.5">Hospitals (2018)</text>
</g>
<text class="ft" x="12.7" y="987.7">Sources: Missouri Department of Health and Senior Services, Division of Regulation and Licensure (hospitals); US Census</text>
<text class="ft" x="12.7" y="995.8">Bureau, Small Area Health Insurance Estimates (SAHIE) Program</text>
<text class="ft" x="12.7" y="1010.2">Created by University of Missouri Center for Health Policy, February 11, 2021</text>
</svg></body></html>
